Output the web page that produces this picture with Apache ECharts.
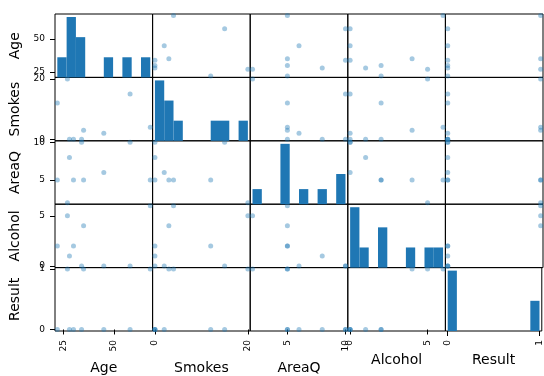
<!DOCTYPE html>
<html><head><meta charset="utf-8">
<script src="https://cdn.jsdelivr.net/npm/echarts@6/dist/echarts.min.js"></script>
<style>html,body{margin:0;padding:0;background:#fff}#c{width:544px;height:376px}</style>
</head><body><div id="c"></div>
<script>
// ---- data ----
const columns = ['Age', 'Smokes', 'AreaQ', 'Alcohol', 'Result'];
const age     = [35, 27, 30, 28, 68, 34, 58, 22, 45];
const smokes  = [3, 20, 0, 0, 4, 0, 15, 12, 2];
const areaQ   = [5, 2, 5, 8, 5, 10, 10, 5, 6];
const alcohol = [4, 5, 2, 1, 6, 0, 0, 2, 0];
const result  = [1, 1, 0, 0, 1, 0, 0, 0, 0];
const tickLabels = [[25, 50], [0, 20], [5, 10], [0, 5], [0, 1]];
const values = [age, smokes, areaQ, alcohol, result];

// ---- layout ----
const N = columns.length;
const L = 55, T = 14, W = 97.6, H = 63.4;
const FONT = 'DejaVu Sans';
const BLUE = '#1f77b4';
const DOT = 'rgba(31,119,180,0.5)';

function bounds(arr) {
  const mn = Math.min(...arr), mx = Math.max(...arr);
  const d = (mx - mn) * 0.05 / 2;
  return [mn - d, mx + d];
}
function hist(arr, nb) {
  const mn = Math.min(...arr), mx = Math.max(...arr);
  const w = (mx - mn) / nb;
  const counts = new Array(nb).fill(0);
  arr.forEach(v => { let k = Math.floor((v - mn) / w); if (k >= nb) k = nb - 1; counts[k]++; });
  const out = [];
  counts.forEach((c, k) => { if (c > 0) out.push([mn + k * w, mn + (k + 1) * w, c]); });
  return { bins: out, maxC: Math.max(...counts) };
}

const B = values.map(bounds);
const grids = [], xAxes = [], yAxes = [], series = [];
const tickStyle = { show: true, length: 5, lineStyle: { color: '#000', width: 1 } };
const labelBase = { color: '#000', fontSize: 9, fontFamily: FONT };
const nameStyle = { color: '#000', fontSize: 14, fontFamily: FONT };

for (let i = 0; i < N; i++) {
  for (let j = 0; j < N; j++) {
    const g = i * N + j;
    grids.push({ left: L + j * W, top: T + i * H, width: W, height: H, show: true,
      borderColor: '#000', borderWidth: 1, backgroundColor: 'transparent', containLabel: false });
    const bottomRow = i === N - 1;
    const maxLen = Math.max(...tickLabels[j].map(v => String(v).length));
    xAxes.push({
      gridIndex: g, type: 'value', min: B[j][0], max: B[j][1],
      show: bottomRow,
      axisLine: { show: false }, splitLine: { show: false },
      axisTick: Object.assign({ customValues: tickLabels[j] }, tickStyle),
      axisLabel: Object.assign({ customValues: tickLabels[j], rotate: 90, margin: 9 }, labelBase),
      name: bottomRow ? columns[j] : '', nameLocation: 'middle',
      nameGap: maxLen > 1 ? 30 : 22, nameTextStyle: nameStyle
    });
    if (i === j) {
      const h = hist(values[j], 10);
      yAxes.push({ gridIndex: g, type: 'value', min: 0, max: h.maxC * 1.05, show: false,
        splitLine: { show: false } });
      series.push({
        type: 'custom', xAxisIndex: g, yAxisIndex: g, data: h.bins,
        encode: { x: [0, 1], y: 2 }, clip: false,
        renderItem: function (params, api) {
          const p0 = api.coord([api.value(0), api.value(2)]);
          const p1 = api.coord([api.value(1), 0]);
          return { type: 'rect', shape: { x: p0[0], y: p0[1], width: p1[0] - p0[0], height: p1[1] - p0[1] },
            style: { fill: BLUE } };
        }
      });
    } else {
      yAxes.push({
        gridIndex: g, type: 'value', min: B[i][0], max: B[i][1],
        show: j === 0, position: 'left',
        axisLine: { show: false }, splitLine: { show: false },
        axisTick: Object.assign({ customValues: tickLabels[i] }, tickStyle),
        axisLabel: Object.assign({ customValues: tickLabels[i], margin: 10 }, labelBase),
        name: columns[i], nameLocation: 'middle', nameGap: 33, nameTextStyle: nameStyle
      });
      const pts = values[j].map((v, k) => [v, values[i][k]]);
      series.push({
        type: 'scatter', xAxisIndex: g, yAxisIndex: g, data: pts,
        symbolSize: 5, itemStyle: { color: DOT }, clip: true
      });
    }
  }
}
// label axis for the top-left histogram cell (Age scale)
yAxes.push({
  gridIndex: 0, type: 'value', min: B[0][0], max: B[0][1], position: 'left',
  axisLine: { show: false }, splitLine: { show: false },
  axisTick: Object.assign({ customValues: tickLabels[0] }, tickStyle),
  axisLabel: Object.assign({ customValues: tickLabels[0], margin: 10 }, labelBase),
  name: columns[0], nameLocation: 'middle', nameGap: 33, nameTextStyle: nameStyle
});

const chart = echarts.init(document.getElementById('c'), null, { renderer: 'canvas' });
chart.setOption({
  animation: false,
  backgroundColor: '#fff',
  grid: grids, xAxis: xAxes, yAxis: yAxes, series: series
});
</script></body></html>
